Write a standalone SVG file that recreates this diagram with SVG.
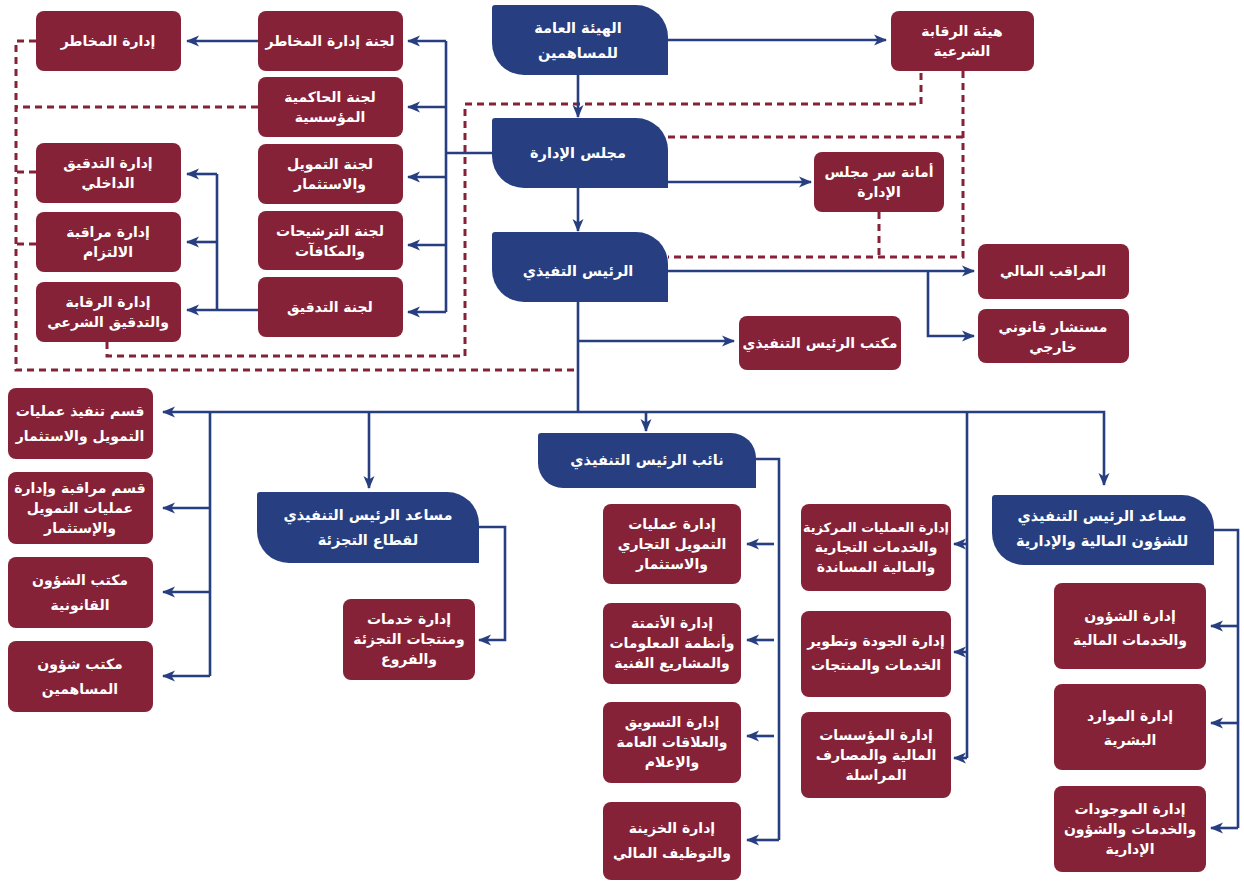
<svg xmlns="http://www.w3.org/2000/svg" width="1244" height="881" viewBox="0 0 1244 881">
<style>
.b{fill:#273f80}
.m{fill:#852237}
.t{fill:#fff;font-family:"DejaVu Sans",sans-serif;font-size:14px;font-weight:bold;text-anchor:middle}
.tb{fill:#fff;font-family:"DejaVu Sans",sans-serif;font-size:14.5px;font-weight:bold;text-anchor:middle}
.s{font-size:12.8px}
.c{fill:none;stroke:#273f80;stroke-width:2.6}
.a{marker-end:url(#ah)}
.d{fill:none;stroke:#852237;stroke-width:3;stroke-dasharray:7 5}
</style>
<defs>
<marker id="ah" markerWidth="13" markerHeight="12" refX="12" refY="6" orient="auto" markerUnits="userSpaceOnUse"><path d="M0,0.5 L13,6 L0,11.5 L3.5,6 Z" fill="#273f80"/></marker>
</defs>

<g id="dashed">
<path class="d" d="M36,41 H16 V370 H574"/>
<path class="d" d="M258,107 H16"/>
<path class="d" d="M36,172 H16"/>
<path class="d" d="M36,244 H16"/>
<path class="d" d="M107,342 V356 H465 V104 H921 V71"/>
<path class="d" d="M963,71 V257 H668"/>
<path class="d" d="M668,137 H963"/>
<path class="d" d="M879,212 V257"/>
</g>

<g id="connectors">
<path class="c a" d="M578,75 V117"/>
<path class="c a" d="M668,40 H886"/>
<path class="c a" d="M668,182 H811"/>
<path class="c a" d="M578,188 V231"/>
<path class="c a" d="M668,271 H974"/>
<path class="c a" d="M928,271 V336 H974"/>
<path class="c" d="M578,302 V412"/>
<path class="c a" d="M578,341 H734"/>
<path class="c" d="M492,153 H446"/>
<path class="c" d="M446,41 V312"/>
<path class="c a" d="M446,41 H408"/>
<path class="c a" d="M446,107 H408"/>
<path class="c a" d="M446,177 H408"/>
<path class="c a" d="M446,245 H408"/>
<path class="c a" d="M446,312 H408"/>
<path class="c a" d="M258,41 H187"/>
<path class="c a" d="M258,310 H187"/>
<path class="c" d="M217,310 V174"/>
<path class="c a" d="M217,174 H187"/>
<path class="c a" d="M217,242 H187"/>
<path class="c a" d="M210,412 H1104 V485"/>
<path class="c a" d="M210,412 H163"/>
<path class="c" d="M210,412 V676"/>
<path class="c a" d="M210,508 H163"/>
<path class="c a" d="M210,592 H163"/>
<path class="c a" d="M210,676 H163"/>
<path class="c a" d="M369,412 V488"/>
<path class="c a" d="M646,412 V431"/>
<path class="c" d="M967,412 V758"/>
<path class="c a" d="M967,544 H954"/>
<path class="c a" d="M967,652 H954"/>
<path class="c a" d="M967,758 H954"/>
<path class="c a" d="M479,527 H505 V640 H479"/>
<path class="c" d="M756,459 H779 V840"/>
<path class="c a" d="M774,544 H747"/>
<path class="c a" d="M774,640 H747"/>
<path class="c a" d="M774,736 H747"/>
<path class="c a" d="M779,840 H747"/>
<path class="c" d="M1214,530 H1238 V828"/>
<path class="c a" d="M1238,626 H1211"/>
<path class="c a" d="M1238,723 H1211"/>
<path class="c a" d="M1238,828 H1211"/>
</g>

<g id="n-ga"><path class="b" d="M495,5 H636 A32,32 0 0 1 668,37 V75 H524 A32,32 0 0 1 492,43 V8 Q492,5 495,5 Z"/>
<text class="tb" x="578" y="33">الهيئة العامة</text><text class="tb" x="578" y="58">للمساهمين</text></g>
<g id="n-board"><path class="b" d="M495,118 H636 A32,32 0 0 1 668,150 V188 H524 A32,32 0 0 1 492,156 V121 Q492,118 495,118 Z"/>
<text class="tb" x="578" y="158">مجلس الإدارة</text></g>
<g id="n-ceo"><path class="b" d="M495,232 H636 A32,32 0 0 1 668,264 V302 H524 A32,32 0 0 1 492,270 V235 Q492,232 495,232 Z"/>
<text class="tb" x="578" y="276">الرئيس التفيذي</text></g>
<g id="n-deputy"><path class="b" d="M541,433 H731 A25,25 0 0 1 756,458 V488 H563 A25,25 0 0 1 538,463 V436 Q538,433 541,433 Z"/>
<text class="tb" x="647" y="465">نائب الرئيس التنفيذي</text></g>
<g id="n-retail"><path class="b" d="M260,492 H447 A32,32 0 0 1 479,524 V563 H289 A32,32 0 0 1 257,531 V495 Q257,492 260,492 Z"/>
<text class="tb" x="368" y="520">مساعد الرئيس التنفيذي</text><text class="tb" x="368" y="545">لقطاع التجزئة</text></g>
<g id="n-finance"><path class="b" d="M995,495 H1182 A32,32 0 0 1 1214,527 V565 H1024 A32,32 0 0 1 992,533 V498 Q992,495 995,495 Z"/>
<text class="tb" x="1102" y="521">مساعد الرئيس التنفيذي</text><text class="tb" x="1102" y="546">للشؤون المالية والإدارية</text></g>

<g id="n-sharia-board"><rect class="m" x="891" y="11" width="143" height="60" rx="8"/>
<text class="t" x="962" y="36">هيئة الرقابة</text><text class="t" x="962" y="56">الشرعية</text></g>
<g id="n-secretariat"><rect class="m" x="814" y="152" width="130" height="60" rx="8"/>
<text class="t" x="879" y="177">أمانة سر مجلس</text><text class="t" x="879" y="197">الإدارة</text></g>
<g id="n-controller"><rect class="m" x="978" y="244" width="151" height="55" rx="8"/>
<text class="t" x="1053" y="276">المراقب المالي</text></g>
<g id="n-legal"><rect class="m" x="978" y="309" width="151" height="54" rx="8"/>
<text class="t" x="1053" y="332">مستشار قانوني</text><text class="t" x="1053" y="352">خارجي</text></g>
<g id="n-ceo-office"><rect class="m" x="739" y="316" width="162" height="54" rx="8"/>
<text class="t" x="820" y="348">مكتب الرئيس التنفيذي</text></g>

<g id="n-risk-comm"><rect class="m" x="258" y="11" width="145" height="60" rx="8"/>
<text class="t" x="330" y="46">لجنة إدارة المخاطر</text></g>
<g id="n-gov-comm"><rect class="m" x="258" y="77" width="145" height="60" rx="8"/>
<text class="t" x="330" y="102">لجنة الحاكمية</text><text class="t" x="330" y="122">المؤسسية</text></g>
<g id="n-inv-comm"><rect class="m" x="258" y="144" width="145" height="60" rx="8"/>
<text class="t" x="330" y="169">لجنة التمويل</text><text class="t" x="330" y="189">والاستثمار</text></g>
<g id="n-nom-comm"><rect class="m" x="258" y="211" width="145" height="59" rx="8"/>
<text class="t" x="330" y="236">لجنة الترشيحات</text><text class="t" x="330" y="256">والمكافآت</text></g>
<g id="n-audit-comm"><rect class="m" x="258" y="277" width="145" height="60" rx="8"/>
<text class="t" x="330" y="312">لجنة التدقيق</text></g>

<g id="n-risk"><rect class="m" x="36" y="11" width="145" height="60" rx="8"/>
<text class="t" x="108" y="46">إدارة المخاطر</text></g>
<g id="n-internal-audit"><rect class="m" x="36" y="143" width="145" height="60" rx="8"/>
<text class="t" x="108" y="168">إدارة التدقيق</text><text class="t" x="108" y="188">الداخلي</text></g>
<g id="n-compliance"><rect class="m" x="36" y="212" width="145" height="60" rx="8"/>
<text class="t" x="108" y="237">إدارة مراقبة</text><text class="t" x="108" y="257">الالتزام</text></g>
<g id="n-sharia-audit"><rect class="m" x="36" y="282" width="145" height="60" rx="8"/>
<text class="t" x="108" y="307">إدارة الرقابة</text><text class="t" x="108" y="327">والتدقيق الشرعي</text></g>

<g id="n-exec-ops"><rect class="m" x="8" y="388" width="145" height="71" rx="8"/>
<text class="t" x="80" y="416">قسم تنفيذ عمليات</text><text class="t" x="80" y="441">التمويل والاستثمار</text></g>
<g id="n-monitor-ops"><rect class="m" x="8" y="472" width="145" height="72" rx="8"/>
<text class="t" x="80" y="493">قسم مراقبة وإدارة</text><text class="t" x="80" y="513">عمليات التمويل</text><text class="t" x="80" y="533">والإستثمار</text></g>
<g id="n-legal-office"><rect class="m" x="8" y="557" width="145" height="71" rx="8"/>
<text class="t" x="80" y="585">مكتب الشؤون</text><text class="t" x="80" y="610">القانونية</text></g>
<g id="n-shareholders"><rect class="m" x="8" y="641" width="145" height="71" rx="8"/>
<text class="t" x="80" y="669">مكتب شؤون</text><text class="t" x="80" y="694">المساهمين</text></g>

<g id="n-retail-dept"><rect class="m" x="343" y="599" width="132" height="81" rx="8"/>
<text class="t" x="409" y="624">إدارة خدمات</text><text class="t" x="409" y="644">ومنتجات التجزئة</text><text class="t" x="409" y="664">والفروع</text></g>

<g id="n-trade"><rect class="m" x="603" y="504" width="138" height="80" rx="8"/>
<text class="t" x="672" y="529">إدارة عمليات</text><text class="t" x="672" y="549">التمويل التجاري</text><text class="t" x="672" y="569">والاستثمار</text></g>
<g id="n-it"><rect class="m" x="603" y="603" width="138" height="81" rx="8"/>
<text class="t" x="672" y="628">إدارة الأتمتة</text><text class="t" x="672" y="648">وأنظمة المعلومات</text><text class="t" x="672" y="668">والمشاريع الفنية</text></g>
<g id="n-marketing"><rect class="m" x="603" y="702" width="138" height="81" rx="8"/>
<text class="t" x="672" y="727">إدارة التسويق</text><text class="t" x="672" y="747">والعلاقات العامة</text><text class="t" x="672" y="767">والإعلام</text></g>
<g id="n-treasury"><rect class="m" x="603" y="802" width="138" height="78" rx="8"/>
<text class="t" x="672" y="833">إدارة الخزينة</text><text class="t" x="672" y="858">والتوظيف المالي</text></g>

<g id="n-central-ops"><rect class="m" x="801" y="504" width="150" height="87" rx="8"/>
<text class="t s" x="876" y="532">إدارة العمليات المركزية</text><text class="t" x="876" y="552">والخدمات التجارية</text><text class="t" x="876" y="572">والمالية المساندة</text></g>
<g id="n-quality"><rect class="m" x="801" y="611" width="150" height="86" rx="8"/>
<text class="t" x="876" y="646">إدارة الجودة وتطوير</text><text class="t" x="876" y="670">الخدمات والمنتجات</text></g>
<g id="n-fi"><rect class="m" x="801" y="712" width="150" height="86" rx="8"/>
<text class="t" x="876" y="740">إدارة المؤسسات</text><text class="t" x="876" y="760">المالية والمصارف</text><text class="t" x="876" y="780">المراسلة</text></g>

<g id="n-fin-dept"><rect class="m" x="1054" y="583" width="152" height="86" rx="8"/>
<text class="t" x="1130" y="621">إدارة الشؤون</text><text class="t" x="1130" y="645">والخدمات المالية</text></g>
<g id="n-hr"><rect class="m" x="1054" y="684" width="152" height="86" rx="8"/>
<text class="t" x="1130" y="721">إدارة الموارد</text><text class="t" x="1130" y="745">البشرية</text></g>
<g id="n-assets"><rect class="m" x="1054" y="786" width="152" height="86" rx="8"/>
<text class="t" x="1130" y="814">إدارة الموجودات</text><text class="t" x="1130" y="834">والخدمات والشؤون</text><text class="t" x="1130" y="854">الإدارية</text></g>
</svg>
